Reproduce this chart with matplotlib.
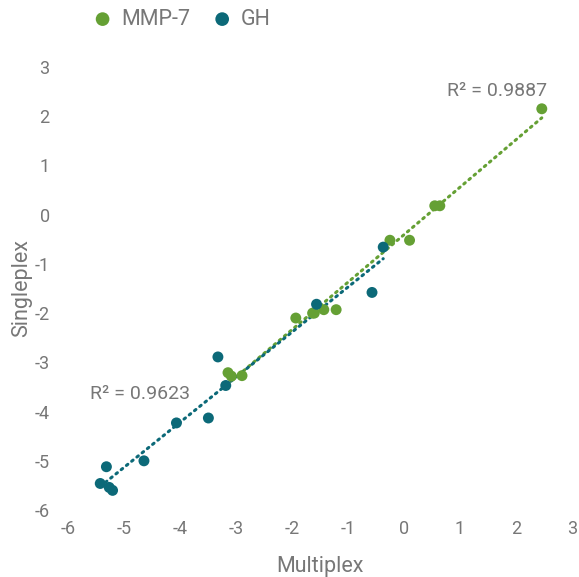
import numpy as np
import matplotlib.pyplot as plt

# MMP-7 measurements
mmp7_multi = [2.46, 0.55, 0.64, -0.25, 0.10, -1.93, -1.63, -1.60, -1.43, -1.21, -3.14, -3.08, -2.89]
mmp7_single = [2.15, 0.18, 0.18, -0.52, -0.52, -2.10, -2.00, -2.00, -1.93, -1.93, -3.21, -3.28, -3.27]

# GH measurements
gh_multi = [-0.57, -1.56, -0.37, -3.32, -3.18, -3.49, -4.06, -4.64, -5.31, -5.42, -5.26, -5.20]
gh_single = [-1.58, -1.82, -0.66, -2.89, -3.47, -4.13, -4.23, -5.00, -5.12, -5.46, -5.54, -5.60]

series = [
    ("MMP-7", mmp7_multi, mmp7_single, "#65a034", "R² = 0.9887"),
    ("GH", gh_multi, gh_single, "#0c6978", "R² = 0.9623"),
]

txt = "#777777"
plt.rcParams['font.family'] = ['Roboto', 'DejaVu Sans']
plt.rcParams['axes.unicode_minus'] = False

fig = plt.figure(figsize=(5.79, 5.77), dpi=100)
ax = fig.add_axes([0.117, 0.116, 0.871, 0.768])

for name, x, y, col, r2 in series:
    x = np.array(x)
    y = np.array(y)
    ax.scatter(x, y, s=62, color=col, label=name, zorder=3, edgecolors='none')
    k, b = np.polyfit(x, y, 1)
    xs = np.linspace(x.min(), x.max(), 2)
    ax.plot(xs, k * xs + b, color=col, lw=2.2, ls=(0, (0.6, 1.6)),
            dash_capstyle='round', zorder=2)

ax.text(2.55, 2.33, "R² = 0.9887", color=txt, fontsize=14, ha='right', va='bottom')
ax.text(-5.6, -3.65, "R² = 0.9623", color=txt, fontsize=14, ha='left', va='center')

ax.set_xlim(-6, 3)
ax.set_ylim(-6, 3)
ax.set_xticks(range(-6, 4))
ax.set_yticks(range(-6, 4))
for s in ax.spines.values():
    s.set_visible(False)
ax.tick_params(length=0, colors=txt, labelsize=13, pad=7)
ax.tick_params(axis='y', pad=13)
ax.set_xlabel("Multiplex", color=txt, fontsize=15.5, labelpad=13)
ax.set_ylabel("Singleplex", color=txt, fontsize=15.5, labelpad=2)

ax.legend(loc='upper left', bbox_to_anchor=(-0.012, 1.175), ncol=2, frameon=False,
          fontsize=15.5, labelcolor=txt, handletextpad=-0.15, columnspacing=0.5,
          markerscale=1.25)

fig.savefig("out.png", dpi=100)
